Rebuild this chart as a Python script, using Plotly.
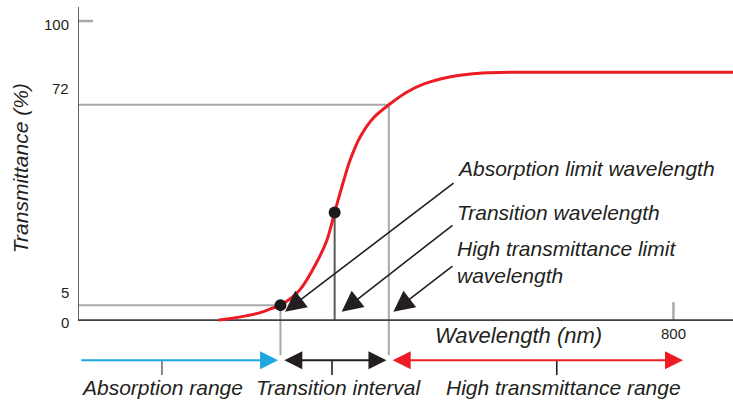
import plotly.graph_objects as go

# Transmittance curve of a long-pass filter (schematic)
wavelength_nm = [418, 430, 441, 453, 462, 470, 486, 500, 509, 515.5, 523, 528.5,
                 537, 548, 561, 576, 590, 612, 640, 669, 700, 850]
transmittance = [0, 0.6, 1.4, 2.5, 3.8, 5, 10, 19, 26.7, 36, 46.5, 53.5,
                 61.3, 67.6, 72, 76.2, 78.9, 81.3, 82.6, 82.9, 82.9, 82.9]

# characteristic wavelengths and their transmittance levels
abs_limit_nm, abs_limit_T = 470, 5
trans_nm, trans_T = 515.5, 36
high_limit_nm, high_limit_T = 561, 72

y_tick_vals = [0, 5, 72, 100]
y_tick_text = ["0", "5", "72", "100"]
x_tick_val = 800
x_tick_text = "800"

range_labels = ["Absorption range", "Transition interval", "High transmittance range"]
callout_labels = ["Absorption limit wavelength", "Transition wavelength",
                  "High transmittance limit<br>wavelength"]

X0, X1 = 300, 850
Y0, Y1 = -28.4, 104.7
TEXT = "#231f20"
GRAY = "#a7a9ac"
AXIS = "#414042"
RED = "#ed1c24"
BLUE = "#1ea7e1"
FONT = "Liberation Sans"

fig = go.Figure()

# guide lines for the three characteristic points
fig.add_trace(go.Scatter(x=[X0, high_limit_nm, high_limit_nm], y=[high_limit_T, high_limit_T, -11.8],
                         mode="lines", line=dict(color=GRAY, width=2), hoverinfo="skip"))
fig.add_trace(go.Scatter(x=[X0, abs_limit_nm, abs_limit_nm], y=[abs_limit_T, abs_limit_T, -11.8],
                         mode="lines", line=dict(color=GRAY, width=2), hoverinfo="skip"))
fig.add_trace(go.Scatter(x=[trans_nm, trans_nm], y=[trans_T, 0],
                         mode="lines", line=dict(color="#58595b", width=2), hoverinfo="skip"))
# tick marks at 100 % and 800 nm
fig.add_trace(go.Scatter(x=[X0, 312.6], y=[100, 100], mode="lines",
                         line=dict(color=GRAY, width=2.5), hoverinfo="skip"))
fig.add_trace(go.Scatter(x=[x_tick_val, x_tick_val], y=[0, 6], mode="lines",
                         line=dict(color=GRAY, width=2.5), hoverinfo="skip"))

# axes
fig.add_trace(go.Scatter(x=[X0, X0, X1], y=[Y1, 0, 0], mode="lines",
                         line=dict(color=AXIS, width=1.6), hoverinfo="skip"))

# transmittance curve
fig.add_trace(go.Scatter(x=wavelength_nm, y=transmittance, mode="lines",
                         line=dict(color=RED, width=3, shape="spline", smoothing=0.9)))

# marked points
fig.add_trace(go.Scatter(x=[abs_limit_nm, trans_nm], y=[abs_limit_T, trans_T], mode="markers",
                         marker=dict(color="#1a1a1a", size=12)))

# short ticks below the range arrows
for xc, col in [(370.5, "#6d6e71"), (513.3, "#231f20"), (702, "#231f20")]:
    fig.add_trace(go.Scatter(x=[xc, xc], y=[-13.4, -18.4], mode="lines",
                             line=dict(color=col, width=1.6), hoverinfo="skip"))

ann = []

def arrow(x, y, ax, ay, color, width, size, both=False):
    ann.append(dict(x=x, y=y, ax=ax, ay=ay, xref="x", yref="y", axref="x", ayref="y",
                    text="", showarrow=True, arrowhead=2, arrowsize=size, arrowwidth=width,
                    arrowcolor=color, standoff=0, startstandoff=0,
                    arrowside="end+start" if both else "end",
                    startarrowhead=2, startarrowsize=size))

# range arrows
arrow(abs_limit_nm - 2, -13.4, 301.5, -13.4, BLUE, 2, 1.8)
arrow(high_limit_nm - 2, -13.4, abs_limit_nm + 2, -13.4, "#231f20", 2, 1.8, both=True)
arrow(808, -13.4, high_limit_nm + 2, -13.4, RED, 2, 1.8, both=True)

# callout arrows
arrow(473.8, 2.8, 616.6, 46.2, "#231f20", 1.6, 2.6)
arrow(521.4, 2.8, 615.7, 32.1, "#231f20", 1.6, 2.6)
arrow(564.8, 2.8, 615.7, 18.4, "#231f20", 1.6, 2.6)

# callout texts
for txt, yv in zip(callout_labels, [50.8, 36.1, 19.5]):
    ann.append(dict(x=616.6, y=yv, xref="x", yref="y", text=txt, showarrow=False,
                    xanchor="left", yanchor="middle", align="left",
                    font=dict(family=FONT, size=21, color=TEXT, style="italic")))

# range labels
for txt, xc in zip(range_labels, [370.5, 519, 708]):
    ann.append(dict(x=xc, y=-22.7, xref="x", yref="y", text=txt, showarrow=False,
                    xanchor="center", yanchor="middle",
                    font=dict(family=FONT, size=21, color=TEXT, style="italic")))

# y tick labels
for v, t, sh in zip(y_tick_vals, y_tick_text, [-2, 13, 16, -3]):
    ann.append(dict(x=0, y=v, xref="paper", yref="y", text=t, showarrow=False,
                    xanchor="right", yanchor="middle", xshift=-7, yshift=sh,
                    font=dict(family=FONT, size=15, color=TEXT)))

# x tick label
ann.append(dict(x=x_tick_val, y=0, xref="x", yref="y", text=x_tick_text, showarrow=False,
                xanchor="center", yanchor="middle", yshift=-13,
                font=dict(family=FONT, size=15, color=TEXT)))

# axis titles
ann.append(dict(x=670, y=0, xref="x", yref="y", text="Wavelength (nm)", showarrow=False,
                xanchor="center", yanchor="middle", yshift=-15,
                font=dict(family=FONT, size=22, color=TEXT, style="italic")))
ann.append(dict(x=0, y=50.8, xref="paper", yref="y", text="Transmittance (%)", showarrow=False,
                textangle=-90, xanchor="center", yanchor="middle", xshift=-58,
                font=dict(family=FONT, size=21, color=TEXT, style="italic")))

fig.update_layout(
    width=733, height=405,
    margin=dict(l=78, r=0, t=7, b=0),
    paper_bgcolor="white", plot_bgcolor="white",
    showlegend=False,
    xaxis=dict(range=[X0, X1], visible=False, fixedrange=True),
    yaxis=dict(range=[Y0, Y1], visible=False, fixedrange=True),
    annotations=ann,
)

fig.write_html("out.html")
